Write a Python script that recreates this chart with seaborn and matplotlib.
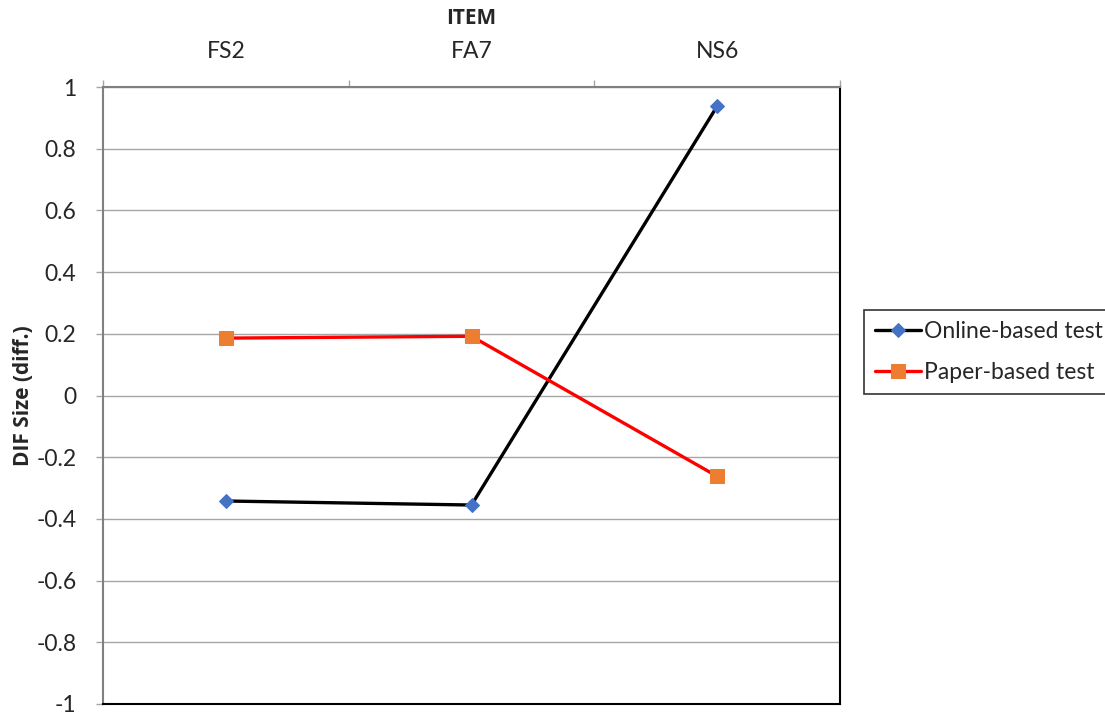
import matplotlib
matplotlib.use("Agg")
import matplotlib.pyplot as plt
import seaborn as sns
import pandas as pd

items = ["FS2", "FA7", "NS6"]
online_vals = [-0.342, -0.355, 0.938]
paper_vals = [0.186, 0.192, -0.262]
series_names = ["Online-based test", "Paper-based test"]
y_ticks = [1, 0.8, 0.6, 0.4, 0.2, 0, -0.2, -0.4, -0.6, -0.8, -1]

sns.set_theme(style="white")
plt.rcParams["font.family"] = ["Lato", "DejaVu Sans"]

FS = 16.5
BOLD_FAMILY = ["Open Sans", "DejaVu Sans"]

fig = plt.figure(figsize=(11.05, 7.15), dpi=100)
ax = fig.add_axes([103 / 1105, 11 / 715, (840 - 103) / 1105, (704 - 87) / 715])

pos = list(range(len(items)))
df_online = pd.DataFrame({"pos": pos, "value": online_vals})
df_paper = pd.DataFrame({"pos": pos, "value": paper_vals})

sns.lineplot(data=df_online, x="pos", y="value", ax=ax, color="black", linewidth=2.4,
             marker="D", markersize=7.5, markerfacecolor="#4472C4",
             markeredgecolor="#4472C4", label=series_names[0])
sns.lineplot(data=df_paper, x="pos", y="value", ax=ax, color="#FF0000", linewidth=2.4,
             marker="s", markersize=9.5, markerfacecolor="#ED7D31",
             markeredgecolor="#ED7D31", label=series_names[1])

ax.set_xlim(-0.5, len(items) - 0.5)
ax.set_ylim(-1, 1)
ax.set_yticks(y_ticks)
ax.set_yticklabels([f"{v:g}" for v in y_ticks], fontsize=FS)
ax.yaxis.grid(True, color="#A6A6A6", linewidth=1)
ax.set_axisbelow(True)

# category labels on top, tick marks between categories
ax.xaxis.tick_top()
ax.set_xticks(pos)
ax.set_xticklabels(items, fontsize=FS)
ax.set_xticks([p - 0.5 for p in pos] + [len(items) - 0.5], minor=True)
ax.tick_params(axis="x", which="major", length=0, pad=18)
ax.tick_params(axis="x", which="minor", length=5, color="#A6A6A6", width=1, top=True, bottom=False)
ax.tick_params(axis="y", which="major", length=5, color="#A6A6A6", width=1, left=True, pad=14)

ax.set_xlabel("")
ax.set_ylabel("DIF Size (diff.)", fontsize=FS - 1.5, fontweight="bold",
              family=BOLD_FAMILY, labelpad=2)
fig.text((103 + 840) / 2 / 1105, 1 - 18 / 715, "ITEM", ha="center", va="center",
         fontsize=FS - 1.5, fontweight="bold", family=BOLD_FAMILY)

for side in ["top", "left"]:
    ax.spines[side].set_color("#808080")
    ax.spines[side].set_linewidth(1.5)
for side in ["right", "bottom"]:
    ax.spines[side].set_color("black")
    ax.spines[side].set_linewidth(1.5)

leg = ax.legend(loc="center left", bbox_to_anchor=(864 / 1105, 1 - 352 / 715),
                bbox_transform=fig.transFigure, frameon=True, fancybox=False,
                fontsize=FS, handlelength=2.0, handletextpad=0.1, borderpad=0.5,
                borderaxespad=0, labelspacing=0.85)
leg.get_frame().set_edgecolor("black")
leg.get_frame().set_linewidth(1.2)

fig.savefig("out.png", dpi=100)
